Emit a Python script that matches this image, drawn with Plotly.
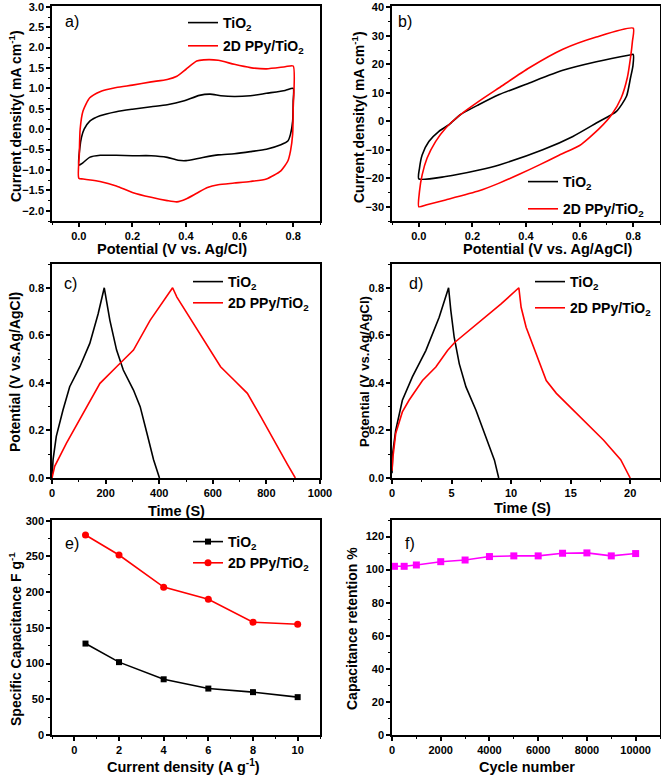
import plotly.graph_objects as go
from plotly.subplots import make_subplots

# ---------------- data ----------------
# a) CV, TiO2 and 2D PPy/TiO2 (V vs Ag/Cl, mA cm-1)
a_tio2_v = [0, 0.004, 0.01, 0.02, 0.041, 0.079, 0.14, 0.20, 0.27, 0.33, 0.39, 0.45, 0.49, 0.53, 0.58, 0.64,
            0.70, 0.77, 0.80, 0.80, 0.798, 0.79, 0.78, 0.754, 0.70, 0.64, 0.58, 0.52, 0.45, 0.40, 0.37,
            0.33, 0.27, 0.20, 0.14, 0.08, 0.04, 0.016, 0]
a_tio2_i = [-0.88, -0.45, -0.2, 0.0, 0.2, 0.33, 0.43, 0.49, 0.55, 0.60, 0.69, 0.83, 0.86, 0.82, 0.80, 0.82,
            0.88, 0.95, 1.0, 0.69, 0.2, -0.12, -0.29, -0.38, -0.49, -0.55, -0.60, -0.63, -0.71, -0.77, -0.76,
            -0.69, -0.65, -0.65, -0.64, -0.64, -0.69, -0.82, -0.88]
a_ppy_v = [0, 0.002, 0.005, 0.016, 0.041, 0.079, 0.14, 0.20, 0.27, 0.33, 0.366, 0.40, 0.44, 0.466, 0.52,
           0.58, 0.64, 0.70, 0.77, 0.80, 0.80, 0.798, 0.79, 0.78, 0.754, 0.70, 0.64, 0.58, 0.52, 0.48,
           0.44, 0.40, 0.366, 0.33, 0.27, 0.20, 0.14, 0.079, 0.016, 0]
a_ppy_i = [-1.2, -0.6, 0.0, 0.45, 0.77, 0.92, 1.02, 1.08, 1.16, 1.22, 1.30, 1.47, 1.67, 1.70, 1.69,
           1.59, 1.51, 1.48, 1.53, 1.55, 0.5, -0.12, -0.53, -0.78, -1.02, -1.22, -1.28, -1.32, -1.36, -1.43,
           -1.57, -1.71, -1.78, -1.75, -1.67, -1.55, -1.39, -1.28, -1.22, -1.2]

# b) CV at high scan rate (V vs Ag/AgCl)
b_tio2_v = [0, 0.0025, 0.0125, 0.0375, 0.075, 0.1125, 0.156, 0.225, 0.3, 0.4125, 0.5375, 0.6625, 0.7875,
            0.8, 0.799, 0.79, 0.775, 0.7375, 0.6625, 0.575, 0.4625, 0.3, 0.225, 0.1, 0]
b_tio2_i = [-20.2, -16.5, -11.8, -7.1, -3.5, -1.2, 2.4, 5.9, 9.4, 13.5, 17.9, 20.9, 23.3,
            23.5, 19.5, 15.3, 8.8, 3.5, -0.6, -5.3, -10.0, -15.3, -17.1, -19.4, -20.2]
b_ppy_v = [0, 0.0025, 0.0125, 0.031, 0.0625, 0.1, 0.156, 0.225, 0.3, 0.4125, 0.5375, 0.6625, 0.8,
           0.797, 0.79, 0.778, 0.755, 0.72, 0.675, 0.6, 0.525, 0.45, 0.375, 0.3, 0.225, 0.1, 0.03, 0]
b_ppy_i = [-30.0, -24.7, -18.8, -12.9, -7.1, -2.4, 2.4, 7.1, 11.8, 18.8, 25.3, 29.6, 32.7,
           28.0, 22.4, 15.3, 8.2, 2.4, -2.4, -8.5, -11.8, -15.3, -18.6, -21.7, -24.4, -27.6, -29.3, -30.0]

# c) GCD (time in s)
c_tio2_t = [0, 4, 16, 41, 66, 104, 141, 172, 195, 216, 241, 266, 304, 329, 354, 379, 401]
c_tio2_v = [0, 0.077, 0.175, 0.286, 0.384, 0.468, 0.566, 0.69, 0.8, 0.663, 0.538, 0.454, 0.37, 0.30,
            0.189, 0.077, 0]
c_ppy_t = [0, 10, 54, 116, 179, 241, 304, 366, 450, 466, 529, 591, 629, 679, 729, 779, 829, 879, 908]
c_ppy_v = [0, 0.049, 0.147, 0.272, 0.398, 0.468, 0.538, 0.663, 0.8, 0.761, 0.649, 0.538, 0.468, 0.412,
           0.356, 0.258, 0.154, 0.056, 0]

# d) GCD at high current (time in s)
d_tio2_t = [0, 0.06, 0.31, 0.87, 1.71, 2.84, 3.96, 4.75, 4.94, 5.22, 5.65, 6.21, 7.05, 7.89, 8.6, 8.96]
d_tio2_v = [0.02, 0.105, 0.2, 0.327, 0.425, 0.536, 0.676, 0.8, 0.704, 0.592, 0.48, 0.383, 0.285, 0.173,
            0.075, 0]
d_ppy_t = [0, 0.08, 0.31, 0.87, 1.43, 2.56, 3.68, 4.66, 5.28, 7.47, 9.16, 10.65, 10.84, 11.26, 12.1,
           12.95, 13.8, 15.8, 17.75, 19.2, 20.0]
d_ppy_v = [0.03, 0.089, 0.187, 0.278, 0.327, 0.41, 0.467, 0.536, 0.571, 0.662, 0.732, 0.8, 0.718, 0.634,
           0.522, 0.41, 0.356, 0.258, 0.16, 0.077, 0]

# e) specific capacitance vs current density
e_current = [0.5, 2, 4, 6, 8, 10]
e_tio2 = [128, 102, 78, 65, 60, 53]
e_ppy = [280, 252, 207, 190, 158, 155]

# f) capacitance retention vs cycle number
f_cycles = [100, 500, 1000, 2000, 3000, 4000, 5000, 6000, 7000, 8000, 9000, 10000]
f_retention = [102.0, 102.0, 102.8, 104.8, 105.8, 107.9, 108.3, 108.3, 109.9, 110.1, 108.3, 109.7]

LBL_TIO2 = "TiO<sub>2</sub>"
LBL_PPY = "2D PPy/TiO<sub>2</sub>"

# ---------------- figure ----------------
W, H = 661, 778
FONT = "Arial, Liberation Sans, sans-serif"
fig = make_subplots(rows=3, cols=2)

BLACK = "#000000"
RED = "#ff0000"
MAG = "#ff00ff"
LW = 1.6

def add(row, col, x, y, name, color, legend, mode="lines", marker=None, shape="linear"):
    fig.add_trace(go.Scatter(x=x, y=y, name=name, mode=mode, legendgroup=legend + name,
                             line=dict(color=color, width=LW, shape=shape, smoothing=0.6),
                             marker=marker, legend=legend), row=row, col=col)

add(1, 1, a_tio2_v, a_tio2_i, LBL_TIO2, BLACK, "legend", shape="spline")
add(1, 1, a_ppy_v, a_ppy_i, LBL_PPY, RED, "legend", shape="spline")
add(1, 2, b_tio2_v, b_tio2_i, LBL_TIO2, BLACK, "legend2", shape="spline")
add(1, 2, b_ppy_v, b_ppy_i, LBL_PPY, RED, "legend2", shape="spline")
add(2, 1, c_tio2_t, c_tio2_v, LBL_TIO2, BLACK, "legend3")
add(2, 1, c_ppy_t, c_ppy_v, LBL_PPY, RED, "legend3")
add(2, 2, d_tio2_t, d_tio2_v, LBL_TIO2, BLACK, "legend4")
add(2, 2, d_ppy_t, d_ppy_v, LBL_PPY, RED, "legend4")
add(3, 1, e_current, e_tio2, LBL_TIO2, BLACK, "legend5", mode="lines+markers",
    marker=dict(symbol="square", size=6, color=BLACK))
add(3, 1, e_current, e_ppy, LBL_PPY, RED, "legend5", mode="lines+markers",
    marker=dict(symbol="circle", size=7, color=RED))
fig.add_trace(go.Scatter(x=f_cycles, y=f_retention, mode="lines+markers", showlegend=False,
                         line=dict(color=MAG, width=LW),
                         marker=dict(symbol="square", size=7, color=MAG)), row=3, col=2)

# domains (pixel boxes converted to paper fractions)
def xd(l, r):
    return [l / W, r / W]

def yd(t, b):
    return [1 - b / H, 1 - t / H]

col_dom = {1: xd(52, 320), 2: xd(392, 660)}
row_dom = {1: yd(6, 221), 2: yd(264, 478), 3: yd(520, 735)}

tickfont = dict(family=FONT, size=11, color="black", weight="bold")

axes = {
    (1, 1): dict(x=dict(range=[-0.1, 0.9], dtick=0.2, tick0=0, mdt=0.1, fmt=".1f"),
                 y=dict(range=[-2.25, 3.02], dtick=0.5, tick0=0, mdt=0.25, fmt=".1f")),
    (1, 2): dict(x=dict(range=[-0.1, 0.9], dtick=0.2, tick0=0, mdt=0.1, fmt=".1f"),
                 y=dict(range=[-35, 40.5], dtick=10, tick0=0, mdt=5, fmt="d")),
    (2, 1): dict(x=dict(range=[0, 1000], dtick=200, tick0=0, mdt=100, fmt="d"),
                 y=dict(range=[0, 0.9], dtick=0.2, tick0=0, mdt=0.1, fmt=".1f")),
    (2, 2): dict(x=dict(range=[0, 22.5], dtick=5, tick0=0, mdt=2.5, fmt="d"),
                 y=dict(range=[0, 0.9], dtick=0.2, tick0=0, mdt=0.1, fmt=".1f")),
    (3, 1): dict(x=dict(range=[-1, 11], dtick=2, tick0=0, mdt=1, fmt="d"),
                 y=dict(range=[0, 301], dtick=50, tick0=0, mdt=25, fmt="d")),
    (3, 2): dict(x=dict(range=[0, 11000], dtick=2000, tick0=0, mdt=1000, fmt="d"),
                 y=dict(range=[0, 130], dtick=20, tick0=0, mdt=10, fmt="d")),
}

def axis_style(spec, domain):
    return dict(domain=domain, range=spec["range"], dtick=spec["dtick"], tick0=spec["tick0"],
                tickformat=spec["fmt"], showgrid=False, zeroline=False,
                showline=True, linecolor="black", linewidth=1.5, mirror=True,
                ticks="outside", ticklen=4, tickwidth=1.5, tickcolor="black",
                minor=dict(ticks="outside", ticklen=2.5, tickwidth=1.2, tickcolor="black",
                           dtick=spec["mdt"], tick0=spec["tick0"], showgrid=False),
                tickfont=tickfont, automargin=False)

for (r, c), spec in axes.items():
    fig.update_xaxes(axis_style(spec["x"], col_dom[c]), row=r, col=c)
    fig.update_yaxes(axis_style(spec["y"], row_dom[r]), row=r, col=c)

# axis titles (text, centre x px, centre y px, angle, size)
titles = [
    ("Potential (V vs. Ag/Cl)", 172, 249, 0, 14.5),
    ("Potential (V vs. Ag/AgCl)", 548, 249, 0, 14.5),
    ("Time (S)", 176, 511, 0, 14.5),
    ("Time (S)", 522, 508, 0, 14.5),
    ("Current density (A g<sup>-1</sup>)", 183, 766, 0, 14.5),
    ("Cycle number", 527, 767, 0, 14.5),
    ("Current density( mA cm<sup>-1</sup>)", 15, 116, -90, 14),
    ("Current density( mA cm<sup>-1</sup>)", 358, 117, -90, 14),
    ("Potential (V vs.Ag/AgCl)", 15, 372, -90, 14),
    ("Potential (V vs.Ag/AgCl)", 364, 372, -90, 13.2),
    ("Specific Capacitance F g<sup>-1</sup>", 15, 639, -90, 14),
    ("Capacitance retention %", 352, 629, -90, 14),
]
for text, px, py, ang, sz in titles:
    fig.add_annotation(text=text, x=px / W, y=1 - py / H, xref="paper", yref="paper",
                       showarrow=False, xanchor="center", yanchor="middle", textangle=ang,
                       font=dict(family=FONT, size=sz, color="black", weight="bold"))

# panel labels (centre px)
panel_labels = [("a)", 72, 22), ("b)", 405, 22), ("c)", 70, 283),
                ("d)", 416, 283), ("e)", 72, 543), ("f)", 410, 543)]
for text, px, py in panel_labels:
    fig.add_annotation(text=text, x=px / W, y=1 - py / H, xref="paper", yref="paper",
                       showarrow=False, xanchor="center", yanchor="middle",
                       font=dict(family=FONT, size=16, color="black"))

legfont = dict(family=FONT, size=14, color="black", weight="bold")

def leg(x_px, y_px, gap=0):
    return dict(x=x_px / W, y=1 - y_px / H, xanchor="left", yanchor="top", bgcolor="rgba(0,0,0,0)",
                borderwidth=0, font=legfont, itemwidth=30, tracegroupgap=gap)

fig.update_layout(
    width=W, height=H, margin=dict(l=0, r=0, t=0, b=0),
    paper_bgcolor="white", plot_bgcolor="white",
    showlegend=True,
    legend=leg(183, 7, 2),
    legend2=leg(523, 166, 6),
    legend3=leg(188, 266, 0),
    legend4=leg(530, 266, 5),
    legend5=leg(188, 526, 0),
)

fig.write_html("out.html", config={"displayModeBar": False},
               post_script="document.body.style.margin='0px';document.body.style.overflow='hidden';")
